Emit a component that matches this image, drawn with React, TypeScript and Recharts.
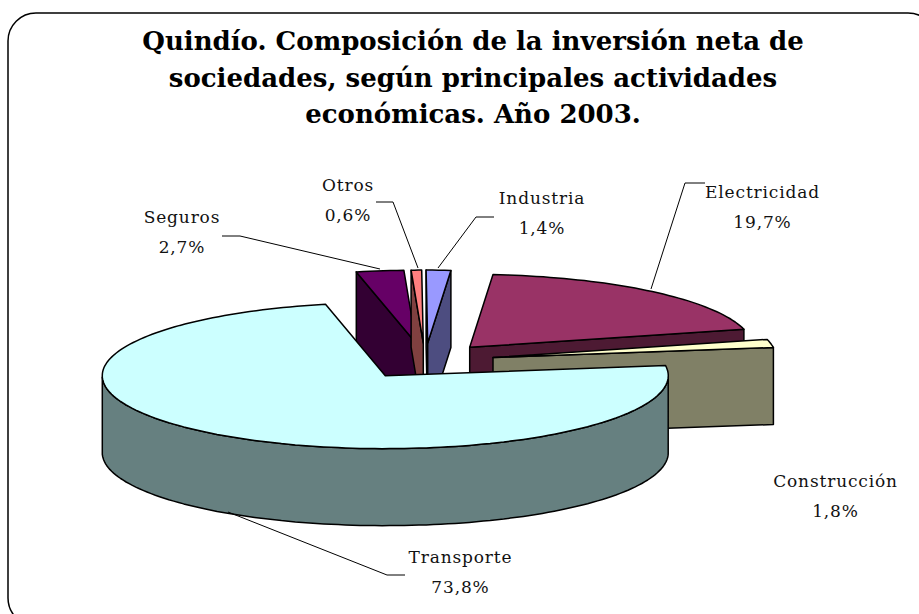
import React from 'react';
import { PieChart, Pie } from 'recharts';

const CATEGORIES = ['Seguros', 'Otros', 'Industria', 'Electricidad', 'Construcción', 'Transporte'];
const VALUES = [2.7, 0.6, 1.4, 19.7, 1.8, 73.8];
const TOP_COLORS = ['#660066', '#FF8080', '#9999FF', '#993366', '#FFFFCC', '#CCFFFF'];
const WALL_COLORS = ['#330033', '#804040', '#4D4D80', '#4D1A33', '#808066', '#668080'];
const TITLE_LINES = [
  'Quindío. Composición de la inversión neta de',
  'sociedades, según principales actividades',
  'económicas. Año 2003.',
];

const tableData = CATEGORIES.map((name, i) => ({ name, value: VALUES[i], fill: TOP_COLORS[i], wall: WALL_COLORS[i] }));

// 3D projection settings
const SQUASH = 73 / 283;
const DEPTH = 77;
const EXPLODE = 0.245;
const FONT = '"DejaVu Serif", serif';

// label placement, by category order: text centre x, first baseline, leader polyline
const LABEL_LAYOUT = [
  { x: 182, y: 223, leader: [[222, 236], [240, 236], [380, 269]] },
  { x: 348, y: 191, leader: [[376, 202], [393, 202], [418, 268]] },
  { x: 542, y: 204, leader: [[494, 217], [476, 217], [438, 268]] },
  { x: 762.5, y: 198, leader: [[705, 183], [685, 183], [651, 289]] },
  { x: 835.5, y: 487, leader: [] },
  { x: 460.5, y: 563, leader: [[405, 575], [387, 575], [228, 512]] },
];

const rad = (d: number) => (d * Math.PI) / 180;

function Slice3D(props: any) {
  const { cx, cy, outerRadius: R, startAngle, endAngle, fill, wall } = props;
  const hi = Math.max(startAngle, endAngle);
  const lo = Math.min(startAngle, endAngle);
  const mid = (hi + lo) / 2;
  const ax = cx + EXPLODE * R * Math.cos(rad(mid));
  const ay = cy - EXPLODE * R * SQUASH * Math.sin(rad(mid));
  const pt = (a: number) => [ax + R * Math.cos(rad(a)), ay - R * SQUASH * Math.sin(rad(a))];
  const poly = (pts: number[][]) => 'M' + pts.map((p) => `${p[0].toFixed(1)},${p[1].toFixed(1)}`).join('L') + 'Z';
  const down = (p: number[]) => [p[0], p[1] + DEPTH];
  const stroke = { stroke: '#000', strokeWidth: 1.5, strokeLinejoin: 'round' as const };

  const arc: number[][] = [];
  const steps = Math.max(3, Math.ceil((hi - lo) / 1.5));
  for (let i = 0; i <= steps; i++) arc.push(pt(hi - ((hi - lo) * i) / steps));

  const faces: React.ReactNode[] = [];
  const apex = [ax, ay];
  if (Math.cos(rad(hi)) < 0) {
    const p = pt(hi);
    faces.push(<path key="s" d={poly([apex, p, down(p), down(apex)])} fill={wall} {...stroke} />);
  }
  if (Math.cos(rad(lo)) > 0) {
    const p = pt(lo);
    faces.push(<path key="e" d={poly([apex, p, down(p), down(apex)])} fill={wall} {...stroke} />);
  }
  // outer wall: only the lower half of the ellipse faces the viewer
  const wallPts: number[][] = [];
  for (let i = 0; i <= steps; i++) {
    const a = hi - ((hi - lo) * i) / steps;
    if (Math.sin(rad(a)) <= 0) wallPts.push(pt(a));
  }
  if (wallPts.length > 1) {
    const lower = wallPts.map(down).reverse();
    faces.push(<path key="w" d={poly([...wallPts, ...lower])} fill={wall} {...stroke} />);
  }
  return (
    <g>
      {faces}
      <path d={poly([apex, ...arc])} fill={fill} {...stroke} />
    </g>
  );
}

function SliceLabel(props: any) {
  const { index, name, value } = props;
  const l = LABEL_LAYOUT[index];
  const textStyle = { fontFamily: FONT, fontSize: 17, fill: '#111', textAnchor: 'middle' as const, letterSpacing: 0.85 };
  return (
    <g>
      {l.leader.length > 0 && (
        <polyline points={l.leader.map((p) => p.join(',')).join(' ')} fill="none" stroke="#000" strokeWidth={1} />
      )}
      <text x={l.x} y={l.y} {...textStyle}>{name}</text>
      <text x={l.x} y={l.y + 30} {...textStyle}>{String(value).replace('.', ',') + '%'}</text>
    </g>
  );
}

export default function App() {
  return (
    <div style={{ position: 'absolute', left: 0, top: 0, width: 919, height: 614, overflow: 'hidden', background: '#fff' }}>
      <PieChart width={919} height={614} margin={{ top: 0, right: 0, bottom: 0, left: 0 }}>
        <rect x={8} y={13} width={928} height={613} rx={28} ry={28} fill="#fff" stroke="#000" strokeWidth={1.5} />
        {TITLE_LINES.map((t, i) => (
          <text key={t} x={473} y={50 + i * 36.7} textAnchor="middle" fontFamily={FONT} fontWeight={700} fontSize={26} fill="#000">
            {t}
          </text>
        ))}
        <Pie
          data={tableData}
          dataKey="value"
          nameKey="name"
          cx={425}
          cy={361}
          innerRadius={0}
          outerRadius={283}
          startAngle={102.2}
          endAngle={-257.8}
          paddingAngle={0}
          stroke="none"
          isAnimationActive={false}
          shape={Slice3D}
          label={SliceLabel}
          labelLine={false}
        />
      </PieChart>
    </div>
  );
}
